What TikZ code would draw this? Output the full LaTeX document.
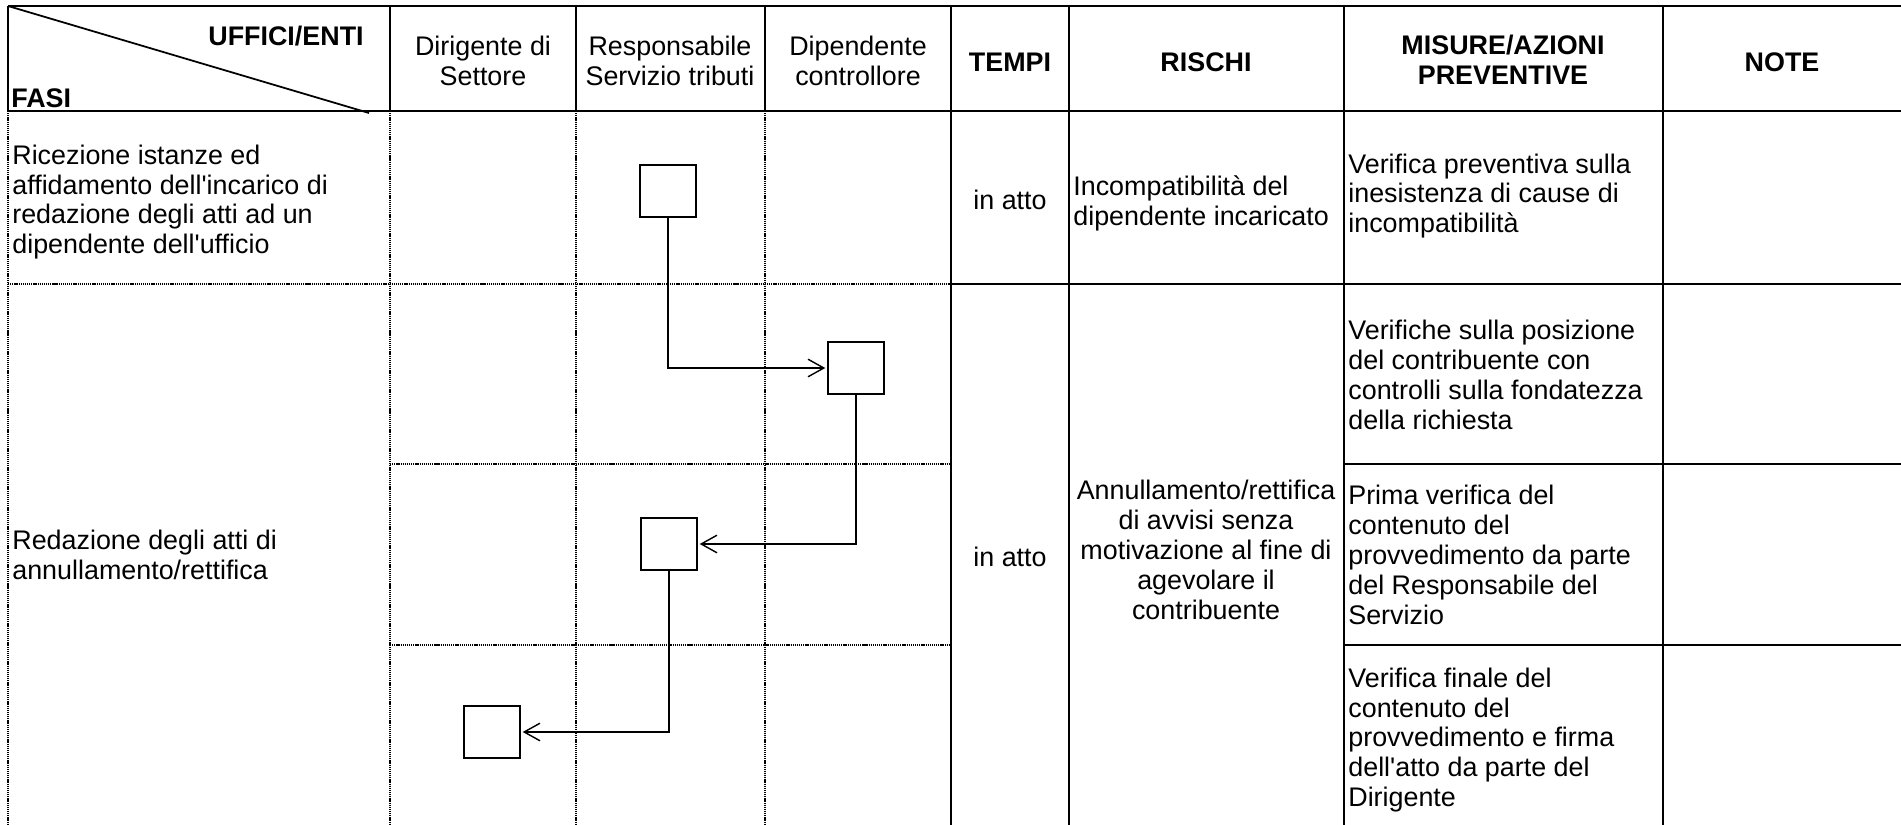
\documentclass[tikz,border=0pt]{standalone}
\usepackage{fontspec}
\setmainfont{Liberation Sans}
\usetikzlibrary{arrows.meta}
\tikzset{%
	rule/.style={
		line width=1.6pt
	},
	lane/.style={
		line width=1.3pt,
		dash pattern=on 0.7pt off 0.5pt
	},
	flow box/.style={
		draw,
		line width=1.1pt,
		minimum width=1.12cm,
		minimum height=1.04cm,
		inner sep=0pt
	},
	flow/.style={
		line width=0.8pt,
		-{Straight Barb[length=9pt,width=10pt]},
		shorten >=1pt
	},
	cell text/.style={
		font=\fontsize{15.3pt}{17pt}\selectfont,
		inner sep=0pt
	},
	head text/.style={
		cell text,
		align=center
	},
	head bold/.style={
		head text,
		font=\fontsize{15.3pt}{17pt}\selectfont\bfseries
	},
}

\begin{document}
\begin{tikzpicture}[x=0.02cm, y=-0.02cm]
	\useasboundingbox (0,0) rectangle (1901,825);
	
	% Header frame
	\draw[rule] (8,6) -- (1901,6);
	\draw[rule] (8,111) -- (1901,111);
	\draw[rule] (8,6) -- (8,111);
	\foreach \x in {390,576,765}
		\draw[rule] (\x,6) -- (\x,111);
	\foreach \x in {951,1069,1344,1663}
		\draw[rule] (\x,6) -- (\x,825);
	\draw[line width=1pt] (8,6) -- (369,113);
	
	% Dotted lanes of the offices
	\draw[lane] (8,111) -- (8,825);
	\foreach \x in {390,576,765}
		\draw[lane] (\x,111) -- (\x,825);
	\draw[lane] (8,284) -- (951,284);
	\draw[rule] (951,284) -- (1901,284);
	\foreach \y in {464,645} {
		\draw[lane] (390,\y) -- (951,\y);
		\draw[rule] (1344,\y) -- (1901,\y);
	}
	
	% Header texts
	\node[head bold, anchor=east] (uffici) at (364,36) {UFFICI/ENTI};
	\node[head bold, anchor=west] (fasi) at (11,98) {FASI};
	\node[head text] (hdirigente) at (483,61) {Dirigente di\\Settore};
	\node[head text] (hresponsabile) at (670,61) {Responsabile\\Servizio tributi};
	\node[head text] (hdipendente) at (858,61) {Dipendente\\controllore};
	\node[head bold] (htempi) at (1010,62) {TEMPI};
	\node[head bold] (hrischi) at (1206,62) {RISCHI};
	\node[head bold] (hmisure) at (1503,60) {MISURE/AZIONI\\PREVENTIVE};
	\node[head bold] (hnote) at (1782,62) {NOTE};
	
	% First phase
	\node[cell text, anchor=west, align=left] (fase1) at (12,202)
		{Ricezione istanze ed\\affidamento dell\textquotesingle incarico di\\redazione degli atti ad un\\dipendente dell\textquotesingle ufficio};
	\node[cell text] (tempi1) at (1010,200) {in atto};
	\node[cell text, anchor=west, align=left] (rischio1) at (1073,203)
		{Incompatibilità del\\dipendente incaricato};
	\node[cell text, anchor=west, align=left] (misura1) at (1348,196)
		{Verifica preventiva sulla\\inesistenza di cause di\\incompatibilità};
	
	% Second phase
	\node[cell text, anchor=west, align=left] (fase2) at (12,555)
		{Redazione degli atti di\\annullamento/rettifica};
	\node[cell text] (tempi2) at (1010,557) {in atto};
	\node[cell text, align=center] (rischio2) at (1206,550)
		{Annullamento/rettifica\\di avvisi senza\\motivazione al fine di\\agevolare il\\contribuente};
	\node[cell text, anchor=west, align=left] (misura2) at (1348,375)
		{Verifiche sulla posizione\\del contribuente con\\controlli sulla fondatezza\\della richiesta};
	\node[cell text, anchor=west, align=left] (misura3) at (1348,555)
		{Prima verifica del\\contenuto del\\provvedimento da parte\\del Responsabile del\\Servizio};
	\node[cell text, anchor=west, align=left] (misura4) at (1348,740)
		{Verifica finale del\\contenuto del\\provvedimento e firma\\dell\textquotesingle atto da parte del\\Dirigente};
	
	% Flow boxes
	\node[flow box] (b1) at (668,191) {};
	\node[flow box] (b2) at (856,368) {};
	\node[flow box] (b3) at (669,544) {};
	\node[flow box] (b4) at (492,732) {};
	
	% Flow arrows
	\draw[flow] (b1.south) |- (b2.west);
	\draw[flow] (b2.south) |- (b3.east);
	\draw[flow] (b3.south) |- (b4.east);
\end{tikzpicture}
\end{document}
